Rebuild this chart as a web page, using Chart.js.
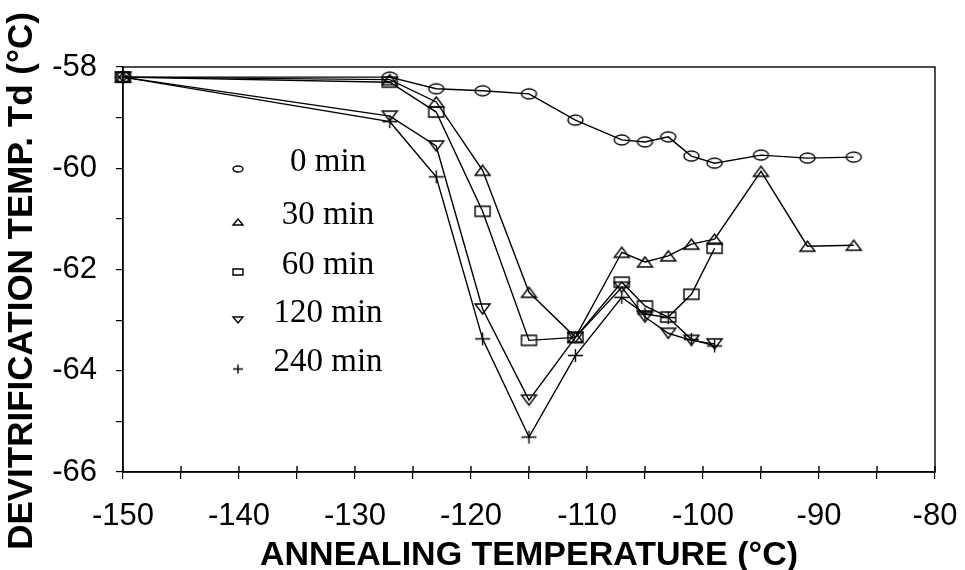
<!DOCTYPE html>
<html>
<head>
<meta charset="utf-8">
<script src="https://cdn.jsdelivr.net/npm/chart.js@4.4.1/dist/chart.umd.min.js"></script>
<style>
  html, body { margin: 0; padding: 0; background: #fff; }
</style>
</head>
<body>
<canvas id="plot" width="965" height="570"></canvas>
<script>
// annealing temperatures (°C)
var temps = [-150, -127, -123, -119, -115, -111, -107, -105, -103, -101, -99, -95, -91, -87];
// devitrification temperature Td (°C) for each annealing time
var min0   = [-58.2, -58.2, -58.43, -58.47, -58.53, -59.05, -59.44, -59.48, -59.38, -59.76, -59.9, -59.74, -59.8, -59.78];
var min30  = [-58.2, -58.25, -58.69, -60.04, -62.45, -63.34, -61.66, -61.85, -61.73, -61.5, -61.4, -60.06, -61.54, -61.52];
var min60  = [-58.2, -58.3, -58.89, -60.85, -63.4, -63.34, -62.25, -62.72, -62.94, -62.49, -61.58];
var min120 = [-58.2, -58.97, -59.56, -62.78, -64.58, -63.34, -62.35, -62.94, -63.26, -63.4, -63.47];
var min240 = [-58.2, -59.08, -60.17, -63.37, -65.31, -63.7, -62.55, -62.88, -62.95, -63.38, -63.51];
var labels = ['0 min', '30 min', '60 min', '120 min', '240 min'];
var shapes = ['ellipse', 'tri', 'rect', 'down', 'plus'];
var yTitle = 'DEVITRIFICATION TEMP. Td (°C)';

// little canvases used as point styles (hollow marks like the scan)
function mark(kind, w, h) {
  var c = document.createElement('canvas');
  c.width = w + 4; c.height = h + 4;
  var g = c.getContext('2d');
  g.strokeStyle = '#000';
  g.lineWidth = 1.4;
  var x0 = 2, y0 = 2, cx = c.width / 2, cy = c.height / 2;
  g.beginPath();
  if (kind == 'ellipse') {
    g.ellipse(cx, cy, w / 2, h / 2, 0, 0, Math.PI * 2);
  } else if (kind == 'tri') {
    g.moveTo(cx, y0); g.lineTo(x0 + w, y0 + h); g.lineTo(x0, y0 + h); g.closePath();
  } else if (kind == 'rect') {
    g.rect(x0, y0, w, h);
  } else if (kind == 'down') {
    g.moveTo(x0, y0); g.lineTo(x0 + w, y0); g.lineTo(cx, y0 + h); g.closePath();
  } else {
    g.moveTo(x0, cy); g.lineTo(x0 + w, cy);
    g.moveTo(cx, y0); g.lineTo(cx, y0 + h);
  }
  g.stroke();
  return c;
}

var series = [min0, min30, min60, min120, min240];
var datasets = series.map(function (vals, i) {
  return {
    label: labels[i],
    data: vals.map(function (v, j) { return { x: temps[j], y: v }; }),
    borderColor: '#000',
    borderWidth: 1.4,
    pointStyle: mark(shapes[i], 15, shapes[i] == 'plus' ? 13 : 10),
    pointRadius: 7,
    tension: 0,
    clip: false
  };
});

var legendMarks = shapes.map(function (s) { return mark(s, 10, s == 'plus' ? 9 : 6); });

var boxAndTicks = {
  id: 'boxAndTicks',
  afterDraw: function (chart) {
    var ctx = chart.ctx, a = chart.chartArea;
    ctx.save();
    ctx.strokeStyle = '#000';
    ctx.lineWidth = 1.4;
    ctx.strokeRect(a.left, a.top, a.right - a.left, a.bottom - a.top);
    // x ticks poke into the plot as well
    var xs = chart.scales.x;
    ctx.beginPath();
    xs.ticks.forEach(function (t) {
      var px = xs.getPixelForValue(t.value);
      ctx.moveTo(px, a.bottom); ctx.lineTo(px, a.bottom - 6);
    });
    ctx.stroke();
    ctx.fillStyle = '#000';
    // y title, a bit lower than the scale centre like the original
    ctx.save();
    ctx.translate(22, 281);
    ctx.rotate(-Math.PI / 2);
    ctx.font = 'bold 35px "Liberation Sans", Arial, sans-serif';
    ctx.textAlign = 'center';
    ctx.textBaseline = 'middle';
    ctx.fillText(yTitle, 0, 0);
    ctx.restore();
    // legend inside the plot
    var rows = [162, 215, 265, 313, 362];
    ctx.font = '33px "Liberation Serif", "Times New Roman", serif';
    ctx.textAlign = 'center';
    ctx.textBaseline = 'middle';
    chart.data.datasets.forEach(function (ds, i) {
      var m = legendMarks[i];
      ctx.drawImage(m, 238 - m.width / 2, rows[i] + 7 - m.height / 2);
      ctx.fillText(ds.label, 328, rows[i]);
    });
    ctx.restore();
  }
};

new Chart(document.getElementById('plot').getContext('2d'), {
  type: 'line',
  data: { datasets: datasets },
  options: {
    responsive: false,
    animation: false,
    layout: { padding: { top: 67, right: 30, left: 0, bottom: 0 } },
    plugins: { legend: { display: false }, tooltip: { enabled: false } },
    scales: {
      x: {
        type: 'linear',
        min: -150, max: -80,
        afterFit: function (s) { s.height = 98; s.paddingLeft = 0; s.paddingRight = 0; },
        border: { color: '#000', width: 1.4 },
        grid: { drawOnChartArea: false, color: '#000', lineWidth: 1.2, tickLength: 7 },
        ticks: {
          stepSize: 5, padding: 19, color: '#000', maxRotation: 0, autoSkip: false,
          font: { family: '"Liberation Sans", Arial, sans-serif', size: 31 },
          callback: function (v) { return v % 10 === 0 ? v : ''; }
        },
        title: {
          display: true, text: 'ANNEALING TEMPERATURE (°C)', color: '#000',
          padding: { top: 0, bottom: 0 },
          font: { family: '"Liberation Sans", Arial, sans-serif', size: 34, weight: 'bold', lineHeight: 0.85 }
        }
      },
      y: {
        min: -66, max: -58,
        afterFit: function (s) { s.width = 123; s.paddingTop = 0; s.paddingBottom = 0; },
        border: { color: '#000', width: 1.4 },
        grid: { drawOnChartArea: false, color: '#000', lineWidth: 1.2, tickLength: 7 },
        ticks: {
          stepSize: 1, padding: 19, color: '#000', autoSkip: false,
          font: { family: '"Liberation Sans", Arial, sans-serif', size: 31 },
          callback: function (v) { return v % 2 === 0 ? v : ''; }
        }
      }
    }
  },
  plugins: [boxAndTicks]
});
</script>
</body>
</html>
